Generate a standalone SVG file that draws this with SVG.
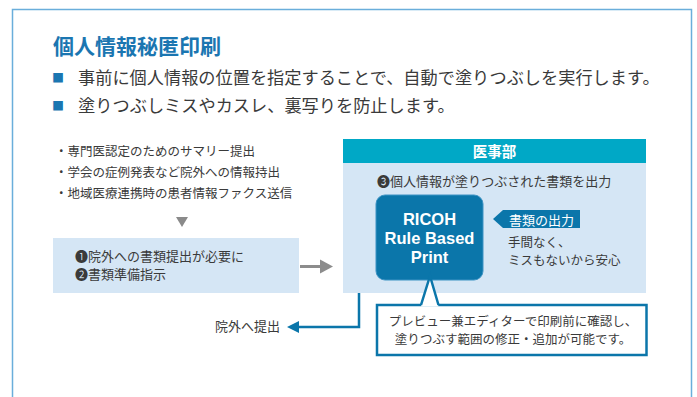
<svg xmlns="http://www.w3.org/2000/svg" width="697" height="397" viewBox="0 0 697 397">
<defs>
<style>
text{font-family:"Noto Sans CJK JP","Noto Sans",sans-serif;fill:#3a3a3a}
.title{font-size:21px;font-weight:bold;fill:#1b76b1}
.lead{font-size:17.2px}
.sq{fill:#1b76b1;font-size:12px}
.s12{font-size:12.5px}
.s13{font-size:13px}
.light{fill:#d5e6f5}
.dark{fill:#0b76aa}
.white{fill:#ffffff}
.ricoh{font-family:"Liberation Sans",Arial,sans-serif;font-weight:bold;font-size:16.5px;fill:#ffffff}
</style>
</defs>
<rect width="697" height="397" fill="#ffffff"/>
<path d="M12.5,397 V9.5 H691.5 V397" fill="none" stroke="#6aaedb" stroke-width="1.5"/>

<g id="heading">
<text class="title" x="53" y="54">個人情報秘匿印刷</text>
<text class="lead" x="52" y="84"><tspan class="sq" dy="-1">■</tspan><tspan x="78" dy="1">事前に個人情報の位置を指定することで、自動で塗りつぶしを実行します。</tspan></text>
<text class="lead" x="52" y="112"><tspan class="sq" dy="-1">■</tspan><tspan x="78" dy="1">塗りつぶしミスやカスレ、裏写りを防止します。</tspan></text>
</g>

<g id="cases">
<text class="s12" x="55" y="155.5">・専門医認定のためのサマリー提出</text>
<text class="s12" x="55" y="176.5">・学会の症例発表など院外への情報持出</text>
<text class="s12" x="55" y="198">・地域医療連携時の患者情報ファクス送信</text>
</g>

<g id="request">
<rect class="light" x="53" y="238" width="246" height="55"/>
<text class="s13" x="75" y="261">❶院外への書類提出が必要に</text>
<text class="s13" x="75" y="279">❷書類準備指示</text>
</g>

<g id="dept">
<rect class="light" x="343" y="139" width="303" height="154"/>
<rect x="343" y="139" width="303" height="24" fill="#00a8c6"/>
<text x="494.5" y="157" text-anchor="middle" style="font-size:14.5px;font-weight:bold;fill:#ffffff">医事部</text>
<text class="s13" x="377" y="186">❸個人情報が塗りつぶされた書類を出力</text>
</g>

<g id="rbp">
<rect class="dark" x="376" y="195" width="107" height="85" rx="9" stroke="#3d93c4" stroke-width="1"/>
<text class="ricoh" x="429.5" y="225" text-anchor="middle">RICOH</text>
<text class="ricoh" x="429.5" y="244" text-anchor="middle">Rule Based</text>
<text class="ricoh" x="429.5" y="263" text-anchor="middle">Print</text>
</g>

<g id="output-tag">
<polygon class="dark" points="493,219 503,210 580,210 580,228 503,228"/>
<text class="s13" x="509" y="224.5" style="fill:#ffffff">書類の出力</text>
<text class="s13" x="508" y="247" style="font-size:12.5px">手間なく、</text>
<text class="s13" x="508" y="265" style="font-size:12.5px">ミスもないから安心</text>
</g>

<g id="callout">
<rect x="377" y="305" width="269.5" height="50" fill="#ffffff" stroke="#0b76aa" stroke-width="2.5"/>
<polygon points="421,306.5 430,276 438.5,306.5" fill="#ffffff"/>
<polyline points="421,305 430,276 438.5,305" fill="none" stroke="#0b76aa" stroke-width="2.5"/>
<text x="513" y="326" text-anchor="middle" style="font-size:12.5px">プレビュー兼エディターで印刷前に確認し、</text>
<text x="513" y="344" text-anchor="middle" style="font-size:12.5px">塗りつぶす範囲の修正・追加が可能です。</text>
</g>

<g id="submit">
<text class="s13" x="280" y="331" text-anchor="end">院外へ提出</text>
</g>

<g id="connectors">
<polygon points="176,217 188,217 182,227" fill="#8a8a8a"/>
<line x1="300" y1="266.5" x2="322" y2="266.5" stroke="#8c8c8c" stroke-width="3"/>
<polygon points="320,259.5 333,266.5 320,273.5" fill="#8c8c8c"/>
<polyline points="359,293 359,327 297,327" fill="none" stroke="#0b76aa" stroke-width="2.5"/>
<polygon points="287,327 299,321 299,333" fill="#0b76aa"/>
</g>
</svg>
